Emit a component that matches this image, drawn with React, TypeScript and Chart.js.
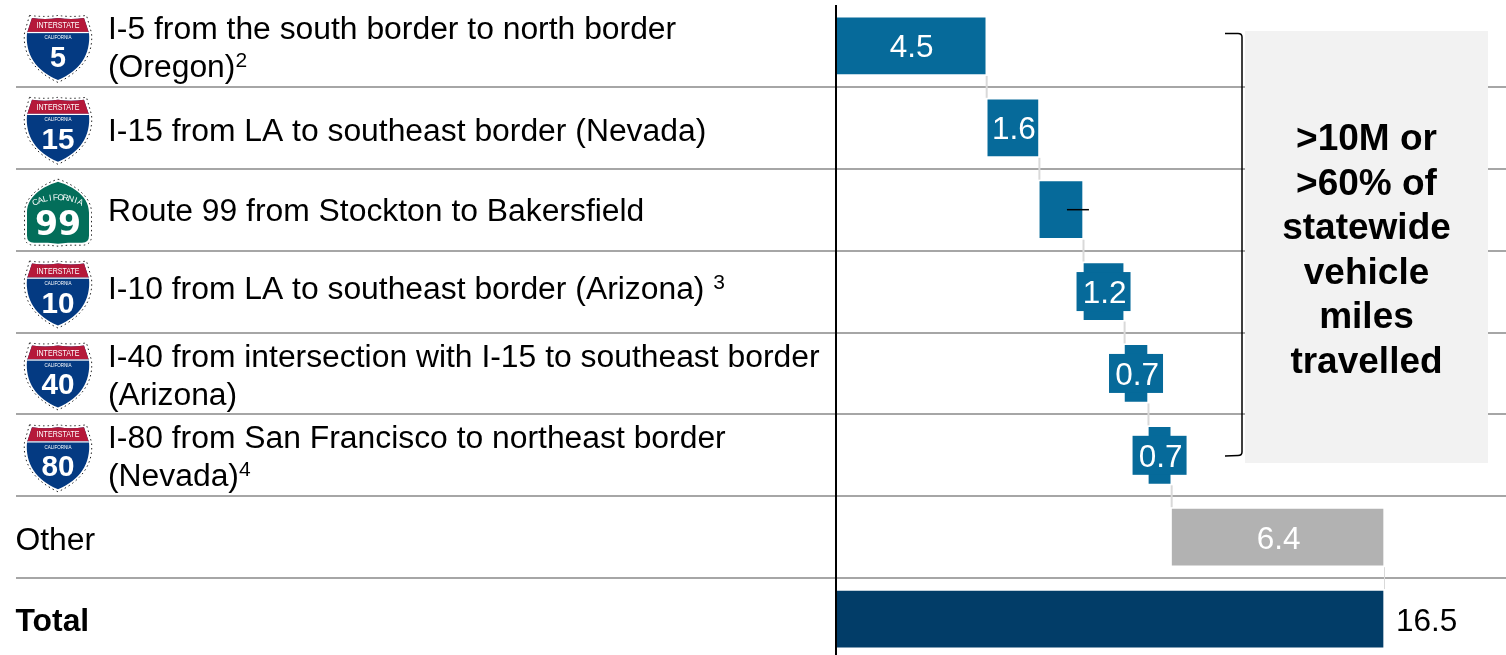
import React, { useEffect, useRef } from "react";
import { Chart, registerables } from "chart.js";

Chart.register(...registerables);

// ---- data ----
const categories = ["I-5", "I-15", "SR-99", "I-10", "I-40", "I-80", "Other", "Total"];
const rowText: string[][] = [
  ["I-5 from the south border to north border", "(Oregon)^2"],
  ["I-15 from LA to southeast border (Nevada)"],
  ["Route 99 from Stockton to Bakersfield"],
  ["I-10 from LA to southeast border (Arizona) ^3"],
  ["I-40 from intersection with I-15 to southeast border", "(Arizona)"],
  ["I-80 from San Francisco to northeast border", "(Nevada)^4"],
  ["Other"],
  ["Total"],
];
const barStart = [0, 4.58, 6.15, 7.48, 8.72, 9.44, 10.14, 0];
const barEnd = [4.5, 6.09, 7.42, 8.66, 9.38, 10.08, 16.5, 16.5];
const valueLabels = ["4.5", "1.6", "", "1.2", "0.7", "0.7", "6.4", "16.5"];
const shieldNumbers = ["5", "15", "99", "10", "40", "80", "", ""];
const calloutLines = [">10M or", ">60% of", "statewide", "vehicle", "miles", "travelled"];
const barColors = ["#066a9a", "#066a9a", "#066a9a", "#066a9a", "#066a9a", "#066a9a", "#b2b2b2", "#023d68"];

// ---- styles ----
const FONT = '"Liberation Sans", Arial, sans-serif';
const TEXT_SIZE = 31.85;
const VALUE_SIZE = 31.5;
const baselines = [[39, 77], [141], [221], [299], [367, 405], [448, 486], [550], [631]];
const textX = [108, 108, 108, 108, 108, 108, 15.5, 15.5];

function interstatePath(ctx: CanvasRenderingContext2D, cx: number, top: number, grow: number) {
  const g = grow;
  ctx.beginPath();
  ctx.moveTo(cx - 26 - g, top - g);
  ctx.quadraticCurveTo(cx - 13, top + 2 - g, cx, top - g);
  ctx.quadraticCurveTo(cx + 13, top + 2 - g, cx + 26 + g, top - g);
  ctx.lineTo(cx + 31 + g, top + 15);
  ctx.bezierCurveTo(cx + 33 + g, top + 36, cx + 22 + g, top + 53, cx, top + 62 + g);
  ctx.bezierCurveTo(cx - 22 - g, top + 53, cx - 33 - g, top + 36, cx - 31 - g, top + 15);
  ctx.closePath();
}

function drawInterstate(ctx: CanvasRenderingContext2D, cx: number, cy: number, num: string) {
  const top = cy - 28;
  ctx.save();
  ctx.setLineDash([1.5, 3]);
  ctx.lineWidth = 1;
  ctx.strokeStyle = "#222";
  interstatePath(ctx, cx, top, 2.5);
  ctx.stroke();
  ctx.setLineDash([]);
  ctx.save();
  interstatePath(ctx, cx, top, 0);
  ctx.clip();
  ctx.fillStyle = "#043a82";
  ctx.fillRect(cx - 40, top - 2, 80, 70);
  ctx.fillStyle = "#b5193a";
  ctx.fillRect(cx - 40, top - 2, 80, 16);
  ctx.fillStyle = "#fff";
  ctx.fillRect(cx - 40, top + 14, 80, 1.2);
  ctx.restore();
  ctx.fillStyle = "#fff";
  ctx.textAlign = "center";
  ctx.textBaseline = "middle";
  ctx.font = `9.5px ${FONT}`;
  ctx.fillText("INTERSTATE", cx, top + 7.5, 43);
  ctx.font = `4.5px ${FONT}`;
  ctx.fillText("CALIFORNIA", cx, top + 20, 36);
  ctx.font = `bold 30px ${FONT}`;
  ctx.textBaseline = "alphabetic";
  ctx.fillText(num, cx, top + 49, num.length > 1 ? 33 : 16);
  ctx.restore();
}

function statePath(ctx: CanvasRenderingContext2D, cx: number, cy: number, g: number) {
  ctx.beginPath();
  ctx.moveTo(cx, cy - 28 - g);
  ctx.bezierCurveTo(cx + 10, cy - 25 - g, cx + 31 + g, cy - 16, cx + 31 + g, cy + 3);
  ctx.lineTo(cx + 31 + g, cy + 26);
  ctx.quadraticCurveTo(cx + 31 + g, cy + 33 + g, cx + 24, cy + 33 + g);
  ctx.lineTo(cx + 10, cy + 33 + g);
  ctx.lineTo(cx, cy + 34 + g);
  ctx.lineTo(cx - 10, cy + 33 + g);
  ctx.lineTo(cx - 24, cy + 33 + g);
  ctx.quadraticCurveTo(cx - 31 - g, cy + 33 + g, cx - 31 - g, cy + 26);
  ctx.lineTo(cx - 31 - g, cy + 3);
  ctx.bezierCurveTo(cx - 31 - g, cy - 16, cx - 10, cy - 25 - g, cx, cy - 28 - g);
  ctx.closePath();
}

function drawState(ctx: CanvasRenderingContext2D, cx: number, cy: number, num: string) {
  ctx.save();
  ctx.setLineDash([1.5, 3]);
  ctx.lineWidth = 1;
  ctx.strokeStyle = "#222";
  statePath(ctx, cx, cy, 2.5);
  ctx.stroke();
  ctx.setLineDash([]);
  statePath(ctx, cx, cy, 0);
  ctx.fillStyle = "#036e5a";
  ctx.fill();
  ctx.fillStyle = "#fff";
  ctx.textAlign = "center";
  ctx.textBaseline = "middle";
  ctx.font = `8.5px ${FONT}`;
  const word = "CALIFORNIA";
  const radius = 53;
  const arcCy = cy + 41;
  const step = 0.097;
  for (let i = 0; i < word.length; i++) {
    const a = (i - (word.length - 1) / 2) * step;
    ctx.save();
    ctx.translate(cx + Math.sin(a) * radius, arcCy - Math.cos(a) * radius);
    ctx.rotate(a);
    ctx.fillText(word[i], 0, 0);
    ctx.restore();
  }
  ctx.font = `bold 34px "DejaVu Sans", sans-serif`;
  ctx.textBaseline = "alphabetic";
  ctx.fillText(num, cx, cy + 25, 46);
  ctx.restore();
}

function drawRich(ctx: CanvasRenderingContext2D, line: string, x: number, y: number, bold: boolean) {
  const parts = line.split("^");
  ctx.textAlign = "left";
  ctx.textBaseline = "alphabetic";
  ctx.font = `${bold ? "bold " : ""}${TEXT_SIZE}px ${FONT}`;
  ctx.fillStyle = "#000";
  ctx.fillText(parts[0], x, y);
  if (parts[1]) {
    const w = ctx.measureText(parts[0]).width;
    ctx.font = `21px ${FONT}`;
    ctx.fillText(parts[1], x + w, y - 10);
  }
}

const decorations = {
  id: "decorations",
  beforeDatasetsDraw(chart: any) {
    const { ctx, scales } = chart;
    const { x, y } = scales;
    const band = y.getPixelForValue(1) - y.getPixelForValue(0);
    ctx.save();
    // row separators
    ctx.strokeStyle = "#a6a6a6";
    ctx.lineWidth = 2;
    for (let i = 0; i < categories.length - 1; i++) {
      const py = Math.round(y.getPixelForValue(i) + band / 2);
      ctx.beginPath();
      ctx.moveTo(16, py);
      ctx.lineTo(1506, py);
      ctx.stroke();
    }
    // connectors between consecutive bars
    ctx.strokeStyle = "#d9d9d9";
    for (let i = 0; i < categories.length - 1; i++) {
      const px = x.getPixelForValue(barEnd[i]) + 1.5;
      const py = y.getPixelForValue(i);
      ctx.lineWidth = i === 6 ? 1 : 2;
      ctx.beginPath();
      ctx.moveTo(px, py + 30);
      ctx.lineTo(px, py + band - 30);
      ctx.stroke();
    }
    ctx.restore();
  },
  afterDatasetsDraw(chart: any) {
    const { ctx, scales } = chart;
    const { x, y } = scales;
    ctx.save();
    // baseline axis
    ctx.strokeStyle = "#000";
    ctx.lineWidth = 2;
    const ax = x.getPixelForValue(0);
    ctx.beginPath();
    ctx.moveTo(ax, 5);
    ctx.lineTo(ax, 655);
    ctx.stroke();

    // row text and shields
    categories.forEach((_, i) => {
      rowText[i].forEach((line, j) => {
        drawRich(ctx, line, textX[i], baselines[i][j], categories[i] === "Total");
      });
      const cy = y.getPixelForValue(i);
      const n = shieldNumbers[i];
      if (n === "99") drawState(ctx, 58, cy, n);
      else if (n) drawInterstate(ctx, 58, cy, n);
    });

    // value labels
    ctx.font = `${VALUE_SIZE}px ${FONT}`;
    ctx.textBaseline = "alphabetic";
    valueLabels.forEach((label, i) => {
      const x0 = x.getPixelForValue(barStart[i]);
      const x1 = x.getPixelForValue(barEnd[i]);
      const cy = y.getPixelForValue(i);
      if (categories[i] === "Total") {
        ctx.textAlign = "left";
        ctx.fillStyle = "#000";
        ctx.fillText(label, x1 + 13, cy + 12);
        return;
      }
      if (!label) return;
      const cx = (x0 + x1) / 2;
      const w = ctx.measureText(label).width;
      if (w + 4 > x1 - x0) {
        ctx.fillStyle = barColors[i];
        ctx.fillRect(cx - 27, cy - 19.5, 54, 39);
      }
      ctx.textAlign = "center";
      ctx.fillStyle = "#fff";
      ctx.fillText(label, cx + 1, cy + 11.5);
    });

    // stray dash over the unlabelled bar
    const dashRow = valueLabels.indexOf("");
    const dashY = y.getPixelForValue(dashRow);
    const dashX = x.getPixelForValue((barStart[dashRow] + barEnd[dashRow]) / 2);
    ctx.strokeStyle = "#000";
    ctx.lineWidth = 1.5;
    ctx.beginPath();
    ctx.moveTo(dashX + 6, dashY);
    ctx.lineTo(dashX + 28, dashY);
    ctx.stroke();

    // callout box
    ctx.fillStyle = "#f2f2f2";
    ctx.fillRect(1245, 31, 243, 432);
    ctx.fillStyle = "#000";
    ctx.font = `bold 37px ${FONT}`;
    ctx.textAlign = "center";
    calloutLines.forEach((line, i) => {
      ctx.fillText(line, 1366.5, 150 + i * 44.6);
    });

    // bracket
    ctx.strokeStyle = "#000";
    ctx.lineWidth = 1.5;
    ctx.beginPath();
    ctx.moveTo(1225, 33.5);
    ctx.lineTo(1238, 33.5);
    ctx.quadraticCurveTo(1242, 33.5, 1242, 37);
    ctx.lineTo(1242, 452);
    ctx.quadraticCurveTo(1242, 455.5, 1238, 455.5);
    ctx.lineTo(1225, 456);
    ctx.stroke();
    ctx.restore();
  },
};

export default function App() {
  const ref = useRef<HTMLCanvasElement>(null);
  useEffect(() => {
    const chart = new Chart(ref.current as HTMLCanvasElement, {
      type: "bar",
      data: {
        labels: categories,
        datasets: [
          {
            data: barStart.map((s, i) => [s, barEnd[i]]),
            backgroundColor: barColors,
            borderWidth: 0,
            barThickness: 56,
          },
        ],
      },
      options: {
        indexAxis: "y",
        animation: false,
        responsive: false,
        layout: { padding: { left: 836, right: 0, top: 5, bottom: 0 } },
        plugins: { legend: { display: false }, tooltip: { enabled: false } },
        scales: {
          x: { display: false, min: 0, max: 20.21 },
          y: { display: false },
        },
      },
      plugins: [decorations],
    } as any);
    return () => chart.destroy();
  }, []);
  return (
    <div style={{ position: "absolute", left: 0, top: 0, width: 1506, height: 655, overflow: "hidden", background: "#fff" }}>
      <canvas ref={ref} width={1506} height={660} style={{ display: "block" }} />
    </div>
  );
}
